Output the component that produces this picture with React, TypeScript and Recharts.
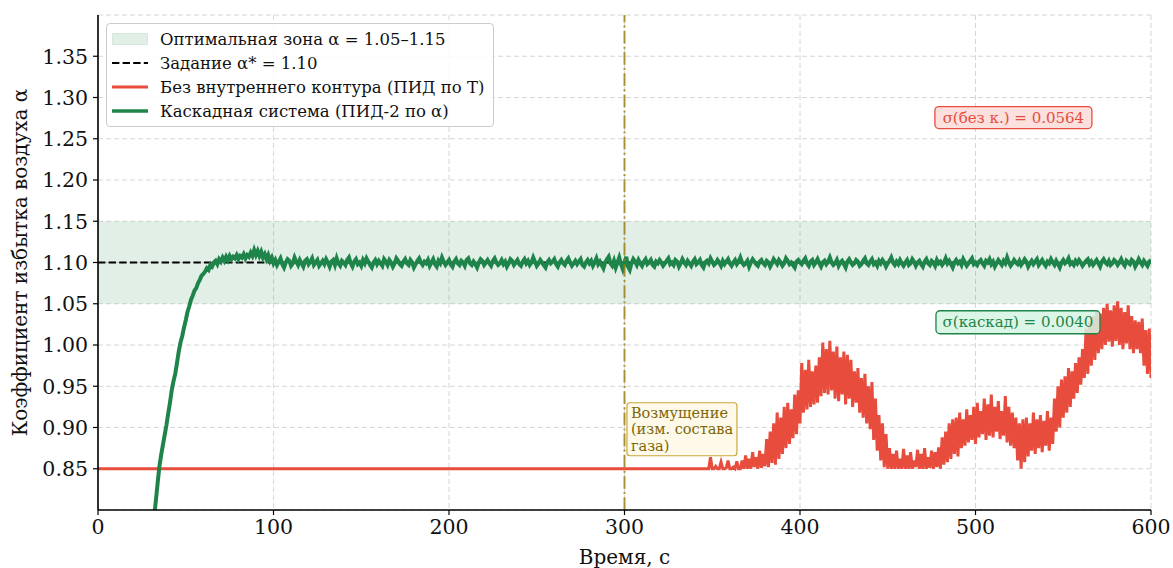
import React from 'react';
import {
  LineChart,
  Line,
  XAxis,
  YAxis,
  CartesianGrid,
  ReferenceArea,
  ReferenceLine,
  ReferenceDot,
  Legend,
} from 'recharts';

// ---------- data ----------
const xTicks = [0, 100, 200, 300, 400, 500, 600];
const yTicks = [0.85, 0.9, 0.95, 1.0, 1.05, 1.1, 1.15, 1.2, 1.25, 1.3, 1.35];

const zoneLow = 1.05;
const zoneHigh = 1.15;
const setpoint = 1.1;
const disturbanceTime = 300;

// Red: without inner loop (PID on T)
const redFlatT = [0, 347];
const redFlatA = [0.85, 0.85];
const redNoisyStartT = 348; // 1 s step
const redNoisyA = [
  0.85, 0.864, 0.85, 0.85, 0.853, 0.85, 0.85, 0.858, 0.85, 0.85,
  0.851, 0.86, 0.85, 0.85, 0.852, 0.85, 0.859, 0.85, 0.85, 0.86,
  0.85, 0.866, 0.85, 0.862, 0.85, 0.87, 0.852, 0.864, 0.85, 0.872,
  0.851, 0.868, 0.853, 0.886, 0.852, 0.895, 0.857, 0.905, 0.855, 0.918,
  0.862, 0.912, 0.868, 0.925, 0.875, 0.93, 0.88, 0.922, 0.887, 0.94,
  0.892, 0.945, 0.905, 0.978, 0.918, 0.97, 0.922, 0.982, 0.925, 0.968,
  0.928, 0.975, 0.93, 0.985, 0.938, 1.003, 0.942, 0.995, 0.94, 1.005,
  0.945, 0.992, 0.935, 0.998, 0.932, 0.985, 0.94, 0.992, 0.928, 0.988,
  0.935, 0.982, 0.925, 0.968, 0.93, 0.972, 0.918, 0.96, 0.912, 0.965,
  0.905, 0.95, 0.898, 0.955, 0.885, 0.935, 0.872, 0.915, 0.86, 0.905,
  0.852, 0.892, 0.85, 0.875, 0.85, 0.868, 0.85, 0.872, 0.85, 0.862,
  0.85, 0.874, 0.85, 0.866, 0.85, 0.87, 0.85, 0.86, 0.852, 0.873,
  0.85, 0.868, 0.85, 0.875, 0.85, 0.864, 0.851, 0.872, 0.85, 0.87,
  0.852, 0.876, 0.85, 0.888, 0.855, 0.895, 0.858, 0.905, 0.862, 0.91,
  0.868, 0.912, 0.865, 0.918, 0.875, 0.91, 0.878, 0.922, 0.882, 0.915,
  0.885, 0.925, 0.88, 0.93, 0.888, 0.92, 0.892, 0.935, 0.885, 0.928,
  0.89, 0.94, 0.888, 0.925, 0.895, 0.932, 0.886, 0.92, 0.89, 0.938,
  0.882, 0.925, 0.878, 0.918, 0.875, 0.912, 0.86, 0.905, 0.85, 0.91,
  0.858, 0.912, 0.865, 0.905, 0.872, 0.918, 0.868, 0.91, 0.875, 0.915,
  0.87, 0.908, 0.878, 0.92, 0.872, 0.912, 0.88, 0.935, 0.895, 0.95,
  0.9, 0.958, 0.912, 0.962, 0.918, 0.972, 0.925, 0.968, 0.935, 0.978,
  0.942, 0.985, 0.952, 0.995, 0.96, 1.02, 0.965, 1.028, 0.975, 1.035,
  0.982, 1.04, 0.99, 1.038, 0.995, 1.045, 1.0, 1.05, 1.004, 1.042,
  0.998, 1.048, 1.005, 1.053, 1.0, 1.045, 0.995, 1.04, 1.002, 1.048,
  0.995, 1.035, 0.99, 1.03, 0.995, 1.028, 0.99, 1.032, 0.975, 1.018,
  0.965, 1.02, 0.96,
];

// Green: cascade system (PID-2 on alpha)
const greenRiseStartT = 28; // 1 s step, 28..99
const greenRiseA = [
  0.725, 0.742, 0.76, 0.778, 0.792, 0.812, 0.833, 0.853, 0.867, 0.879,
  0.891, 0.903, 0.917, 0.93, 0.945, 0.956, 0.965, 0.978, 0.992, 1.003,
  1.011, 1.021, 1.03, 1.04, 1.047, 1.055, 1.06, 1.066, 1.069, 1.075,
  1.079, 1.084, 1.086, 1.089, 1.093, 1.091, 1.097, 1.095, 1.1, 1.102,
  1.098, 1.104, 1.101, 1.106, 1.102, 1.107, 1.103, 1.108, 1.104, 1.107,
  1.105, 1.109, 1.104, 1.108, 1.106, 1.11, 1.105, 1.109, 1.107, 1.112,
  1.108, 1.115, 1.109, 1.114, 1.108, 1.113, 1.106, 1.11, 1.104, 1.109,
  1.102, 1.106,
];
const greenSteadyStartT = 100; // 1 s step, 100..600
const greenSteadyA = [
  1.099, 1.103, 1.097, 1.101, 1.105, 1.098, 1.094, 1.1, 1.104, 1.102, 1.096, 1.099, 1.106, 1.101, 1.097, 1.103, 1.099, 1.095, 1.102, 1.104,
  1.098, 1.101, 1.105, 1.097, 1.1, 1.103, 1.096, 1.099, 1.102, 1.098, 1.104, 1.1, 1.095, 1.101, 1.103, 1.097, 1.105, 1.099, 1.096, 1.102,
  1.1, 1.097, 1.103, 1.106, 1.099, 1.095, 1.101, 1.104, 1.098, 1.1, 1.096, 1.103, 1.099, 1.105, 1.101, 1.097, 1.094, 1.1, 1.103, 1.098,
  1.102, 1.099, 1.096, 1.104, 1.101, 1.097, 1.103, 1.1, 1.095, 1.099, 1.105, 1.102, 1.098, 1.096, 1.101, 1.104, 1.099, 1.097, 1.103, 1.1,
  1.094, 1.098, 1.102, 1.105, 1.1, 1.097, 1.101, 1.099, 1.103, 1.096, 1.1, 1.104, 1.098, 1.095, 1.102, 1.099, 1.106, 1.101, 1.097, 1.1,
  1.103, 1.098, 1.095, 1.101, 1.104, 1.099, 1.097, 1.102, 1.1, 1.096, 1.103, 1.105, 1.099, 1.097, 1.101, 1.098, 1.094, 1.1, 1.104, 1.102,
  1.097, 1.1, 1.103, 1.099, 1.096, 1.102, 1.105, 1.1, 1.097, 1.099, 1.103, 1.098, 1.101, 1.095, 1.099, 1.104, 1.102, 1.097, 1.1, 1.103,
  1.098, 1.096, 1.101, 1.104, 1.099, 1.102, 1.097, 1.1, 1.106, 1.101, 1.096, 1.099, 1.103, 1.1, 1.097, 1.094, 1.1, 1.103, 1.099, 1.101,
  1.104, 1.098, 1.095, 1.1, 1.103, 1.099, 1.097, 1.102, 1.105, 1.1, 1.096, 1.099, 1.102, 1.098, 1.101, 1.104, 1.097, 1.095, 1.1, 1.103,
  1.099, 1.102, 1.096, 1.1, 1.105, 1.098, 1.101, 1.097, 1.093, 1.1, 1.104, 1.107, 1.099, 1.096, 1.102, 1.094, 1.1, 1.106, 1.098, 1.092,
  1.1, 1.107, 1.095, 1.091, 1.099, 1.104, 1.101, 1.097, 1.103, 1.099, 1.096, 1.101, 1.104, 1.098, 1.1, 1.103, 1.097, 1.095, 1.101, 1.099,
  1.103, 1.1, 1.096, 1.099, 1.102, 1.105, 1.098, 1.1, 1.097, 1.103, 1.101, 1.095, 1.099, 1.104, 1.1, 1.097, 1.102, 1.099, 1.096, 1.101,
  1.104, 1.098, 1.1, 1.103, 1.097, 1.094, 1.1, 1.102, 1.099, 1.105, 1.101, 1.097, 1.099, 1.103, 1.1, 1.096, 1.102, 1.098, 1.101, 1.104,
  1.099, 1.096, 1.1, 1.103, 1.098, 1.101, 1.106, 1.1, 1.097, 1.099, 1.102, 1.095, 1.1, 1.104, 1.101, 1.098, 1.096, 1.101, 1.103, 1.099,
  1.097, 1.102, 1.1, 1.095, 1.099, 1.104, 1.101, 1.098, 1.103, 1.1, 1.096, 1.099, 1.105, 1.102, 1.098, 1.1, 1.097, 1.094, 1.101, 1.103,
  1.1, 1.098, 1.102, 1.105, 1.099, 1.096, 1.101, 1.103, 1.097, 1.1, 1.104, 1.099, 1.095, 1.1, 1.102, 1.098, 1.101, 1.106, 1.1, 1.097,
  1.099, 1.103, 1.096, 1.1, 1.102, 1.098, 1.094, 1.101, 1.104, 1.1, 1.097, 1.099, 1.103, 1.101, 1.096, 1.098, 1.102, 1.105, 1.099, 1.097,
  1.101, 1.104, 1.098, 1.1, 1.096, 1.102, 1.099, 1.103, 1.1, 1.095, 1.099, 1.102, 1.106, 1.1, 1.097, 1.101, 1.098, 1.103, 1.099, 1.096,
  1.1, 1.103, 1.097, 1.099, 1.104, 1.101, 1.096, 1.1, 1.102, 1.098, 1.095, 1.101, 1.104, 1.099, 1.097, 1.102, 1.1, 1.096, 1.103, 1.099,
  1.101, 1.097, 1.1, 1.105, 1.099, 1.102, 1.098, 1.094, 1.1, 1.103, 1.099, 1.101, 1.097, 1.104, 1.1, 1.096, 1.099, 1.102, 1.105, 1.098,
  1.1, 1.097, 1.101, 1.103, 1.099, 1.096, 1.102, 1.1, 1.104, 1.098, 1.101, 1.095, 1.099, 1.103, 1.1, 1.097, 1.102, 1.099, 1.106, 1.1,
  1.096, 1.099, 1.103, 1.1, 1.098, 1.102, 1.097, 1.1, 1.104, 1.101, 1.095, 1.099, 1.102, 1.098, 1.101, 1.104, 1.097, 1.1, 1.103, 1.099,
  1.096, 1.101, 1.099, 1.104, 1.1, 1.097, 1.102, 1.098, 1.094, 1.1, 1.103, 1.099, 1.101, 1.105, 1.098, 1.1, 1.097, 1.102, 1.099, 1.103,
  1.1, 1.096, 1.099, 1.102, 1.104, 1.098, 1.101, 1.097, 1.1, 1.103, 1.099, 1.095, 1.101, 1.104, 1.1, 1.098, 1.102, 1.097, 1.099, 1.103,
  1.101, 1.097, 1.1, 1.104, 1.099, 1.096, 1.102, 1.1, 1.098, 1.103, 1.101, 1.095, 1.099, 1.104, 1.1, 1.097, 1.102, 1.099, 1.096, 1.101,
  1.103,
];

const setpointT = [0, 600];

// annotations (data coordinates)
const sigmaNoCascade = { t: 521.6, a: 1.2757, text: 'σ(без к.) = 0.0564' };
const sigmaCascade = { t: 524.2, a: 1.0276, text: 'σ(каскад) = 0.0040' };
const disturbanceNote = { t: 301.4, a: 0.93, lines: ['Возмущение', '(изм. состава', 'газа)'] };

const legendItems = [
  { kind: 'patch', label: 'Оптимальная зона α = 1.05–1.15' },
  { kind: 'dash', label: 'Задание α* = 1.10' },
  { kind: 'red', label: 'Без внутреннего контура (ПИД по Т)' },
  { kind: 'green', label: 'Каскадная система (ПИД-2 по α)' },
];

// ---------- built tables ----------
const redData = [
  ...redFlatT.map((t, i) => ({ t, a: redFlatA[i] })),
  ...redNoisyA.map((a, i) => ({ t: redNoisyStartT + i, a })),
];
const greenData = [
  ...greenRiseA.map((a, i) => ({ t: greenRiseStartT + i, a })),
  ...greenSteadyA.map((a, i) => ({ t: greenSteadyStartT + i, a })),
];
const setpointData = setpointT.map((t) => ({ t, a: setpoint }));

// ---------- style ----------
const FONT = 'DejaVu Serif';
const RED = '#e74c3c';
const GREEN = '#1e8449';
const OLIVE = '#9a7d0a';

function SigmaBox(props: any) {
  const { cx, cy, text, fill, stroke, color, w, h } = props;
  return (
    <g>
      <rect x={cx - w / 2} y={cy - h / 2} width={w} height={h} rx={4} ry={4}
        fill={fill} fillOpacity={0.85} stroke={stroke} strokeWidth={1.3} />
      <text x={cx} y={cy} textAnchor="middle" dominantBaseline="central"
        fontFamily={FONT} fontSize={15} fill={color}>{text}</text>
    </g>
  );
}

function NoteBox(props: any) {
  const { cx, cy } = props;
  const w = 110;
  const h = 53;
  return (
    <g>
      <rect x={cx} y={cy} width={w} height={h} rx={3} ry={3}
        fill="#fef9e7" fillOpacity={0.95} stroke="#c9a83c" strokeWidth={1.2} />
      {disturbanceNote.lines.map((ln, i) => (
        <text key={i} x={cx + 4} y={cy + 10 + i * 16.5} dominantBaseline="central"
          fontFamily={FONT} fontSize={14.5} fill="#7d6608">{ln}</text>
      ))}
    </g>
  );
}

function renderLegend() {
  return (
    <div style={{
      border: '1px solid #cccccc', borderRadius: 4, background: 'rgba(255,255,255,0.85)',
      padding: '3px 8px 3px 5px', fontFamily: FONT, fontSize: 16.5, color: '#111',
      boxSizing: 'border-box', width: 388,
    }}>
      {legendItems.map((it) => (
        <div key={it.label} style={{ display: 'flex', alignItems: 'center', height: 24 }}>
          <svg width={36} height={14} style={{ marginRight: 12, flex: 'none' }}>
            {it.kind === 'patch' && (
              <rect x={0.5} y={1.5} width={35} height={11} fill={GREEN} fillOpacity={0.13}
                stroke={GREEN} strokeOpacity={0.13} />
            )}
            {it.kind === 'dash' && (
              <line x1={0} y1={7} x2={36} y2={7} stroke="#000" strokeWidth={2}
                strokeDasharray="7.4 3.2" />
            )}
            {it.kind === 'red' && (
              <line x1={0} y1={7} x2={36} y2={7} stroke={RED} strokeWidth={3} />
            )}
            {it.kind === 'green' && (
              <line x1={0} y1={7} x2={36} y2={7} stroke={GREEN} strokeWidth={3.5} />
            )}
          </svg>
          <span style={{ whiteSpace: 'nowrap' }}>{it.label}</span>
        </div>
      ))}
    </div>
  );
}

function renderYLabel(props: any) {
  const vb = props.viewBox || {};
  const x = (vb.x ?? 0) + 20;
  const y = (vb.y ?? 0) + (vb.height ?? 0) / 2;
  return (
    <text x={x} y={y} transform={`rotate(-90, ${x}, ${y})`} textAnchor="middle"
      dominantBaseline="central" fontFamily={FONT} fontSize={20} fill="#111">
      Коэффициент избытка воздуха α
    </text>
  );
}

function renderXLabel(props: any) {
  const vb = props.viewBox || {};
  const x = (vb.x ?? 0) + (vb.width ?? 0) / 2;
  const y = (vb.y ?? 0) + 47;
  return (
    <text x={x} y={y} textAnchor="middle" dominantBaseline="central"
      fontFamily={FONT} fontSize={20} fill="#111">Время, с</text>
  );
}

const tickStyle = { fontFamily: FONT, fontSize: 20.5, fill: '#111' };

export default function App() {
  return (
    <div style={{ position: 'absolute', left: 0, top: 0, width: 1173, height: 568, background: '#fff' }}>
      <LineChart width={1173} height={568} margin={{ top: 15, right: 22, bottom: 0, left: 0 }}>
        <ReferenceArea y1={zoneLow} y2={zoneHigh} fill={GREEN} fillOpacity={0.13} stroke="none" />
        <CartesianGrid stroke="#d6d6d6" strokeDasharray="5 3" strokeWidth={1} />
        <XAxis
          type="number" dataKey="t" domain={[0, 600]} ticks={xTicks} allowDataOverflow
          height={58} tick={tickStyle} tickSize={5} tickMargin={4}
          axisLine={{ stroke: '#000', strokeWidth: 1.6 }} tickLine={{ stroke: '#000', strokeWidth: 1.2 }}
          label={renderXLabel}
        />
        <YAxis
          type="number" dataKey="a" domain={[0.8, 1.4]} ticks={yTicks} allowDataOverflow
          width={98} tick={tickStyle} tickSize={5} tickMargin={5}
          tickFormatter={(v: number) => v.toFixed(2)}
          axisLine={{ stroke: '#000', strokeWidth: 1.6 }} tickLine={{ stroke: '#000', strokeWidth: 1.2 }}
          label={renderYLabel}
        />
        <Line data={setpointData} dataKey="a" stroke="#000" strokeWidth={2}
          strokeDasharray="7.4 3.2" dot={false} isAnimationActive={false} legendType="none" />
        <Line data={redData} dataKey="a" stroke={RED} strokeWidth={3} dot={false}
          isAnimationActive={false} type="linear" />
        <Line data={greenData} dataKey="a" stroke={GREEN} strokeWidth={4} dot={false}
          isAnimationActive={false} type="linear" />
        <ReferenceLine x={disturbanceTime} stroke={OLIVE} strokeOpacity={0.8} strokeWidth={2}
          strokeDasharray="12.8 3.2 2 3.2" />
        <ReferenceDot x={disturbanceNote.t} y={disturbanceNote.a} r={1}
          shape={(p: any) => <NoteBox cx={p.cx} cy={p.cy} />} />
        <ReferenceDot x={sigmaNoCascade.t} y={sigmaNoCascade.a} r={1}
          shape={(p: any) => (
            <SigmaBox cx={p.cx} cy={p.cy} text={sigmaNoCascade.text} w={157} h={22}
              fill="#fadbd8" stroke={RED} color={RED} />
          )} />
        <ReferenceDot x={sigmaCascade.t} y={sigmaCascade.a} r={1}
          shape={(p: any) => (
            <SigmaBox cx={p.cx} cy={p.cy} text={sigmaCascade.text} w={164} h={23}
              fill="#d5f5e3" stroke={GREEN} color={GREEN} />
          )} />
        <Legend
          layout="vertical" align="center" verticalAlign="middle"
          content={renderLegend}
          wrapperStyle={{ left: 106, top: 23, width: 388, height: 'auto' }}
        />
      </LineChart>
    </div>
  );
}
